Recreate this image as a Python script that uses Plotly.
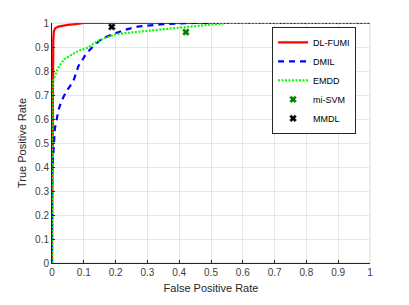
import plotly.graph_objects as go

# ---- data ----
dlfumi_fpr = [0.0, 0.002, 0.003, 0.004, 0.006, 0.01, 0.02, 0.03, 0.05, 0.08, 0.1, 0.3, 0.6, 1.0]
dlfumi_tpr = [0.0, 0.75, 0.85, 0.93, 0.965, 0.978, 0.985, 0.988, 0.992, 0.996, 1.0, 1.0, 1.0, 1.0]

dmil_fpr = [0.0, 0.0, 0.003, 0.004, 0.006, 0.009, 0.015, 0.02, 0.03, 0.046, 0.067, 0.083, 0.098,
            0.104, 0.12, 0.135, 0.161, 0.188, 0.23, 0.27, 0.313, 0.35, 0.4, 0.45, 0.6, 1.0]
dmil_tpr = [0.0, 0.40, 0.43, 0.46, 0.50, 0.56, 0.60, 0.636, 0.676, 0.717, 0.757, 0.82, 0.851,
            0.865, 0.89, 0.91, 0.938, 0.952, 0.972, 0.985, 0.992, 0.995, 0.998, 1.0, 1.0, 1.0]

emdd_fpr = [0.0, 0.001, 0.004, 0.01, 0.015, 0.025, 0.04, 0.057, 0.083, 0.114, 0.135, 0.167,
            0.198, 0.23, 0.27, 0.31, 0.37, 0.43, 0.5, 0.55, 0.7, 1.0]
emdd_tpr = [0.0, 0.73, 0.76, 0.785, 0.80, 0.825, 0.851, 0.864, 0.884, 0.898, 0.918, 0.938,
            0.952, 0.958, 0.963, 0.967, 0.977, 0.985, 0.993, 1.0, 1.0, 1.0]

misvm_fpr = [0.421]
misvm_tpr = [0.962]
mmdl_fpr = [0.188]
mmdl_tpr = [0.984]

tick_vals = [0, 0.1, 0.2, 0.3, 0.4, 0.5, 0.6, 0.7, 0.8, 0.9, 1]
tick_text = ["0", "0.1", "0.2", "0.3", "0.4", "0.5", "0.6", "0.7", "0.8", "0.9", "1"]

FONT = "Liberation Sans, Arial, Helvetica, sans-serif"
AX = "#262626"

fig = go.Figure()
fig.add_trace(go.Scatter(x=dlfumi_fpr, y=dlfumi_tpr, mode="lines", name="DL-FUMI",
                         line=dict(color="#ff0000", width=2.2)))
fig.add_trace(go.Scatter(x=dmil_fpr, y=dmil_tpr, mode="lines", name="DMIL",
                         line=dict(color="#0000ff", width=2.2, dash="6px,5px")))
fig.add_trace(go.Scatter(x=emdd_fpr, y=emdd_tpr, mode="lines", name="EMDD",
                         line=dict(color="#00ff00", width=2.2, dash="2px,1.5px")))
fig.add_trace(go.Scatter(x=misvm_fpr, y=misvm_tpr, mode="markers", name="mi-SVM",
                         marker=dict(symbol="x", size=6, color="#008000",
                                     line=dict(width=0.5, color="#008000")), cliponaxis=False))
fig.add_trace(go.Scatter(x=mmdl_fpr, y=mmdl_tpr, mode="markers", name="MMDL",
                         marker=dict(symbol="x", size=6, color="#000000",
                                     line=dict(width=0.5, color="#000000")), cliponaxis=False))

axis_common = dict(
    range=[0, 1], tickvals=tick_vals, ticktext=tick_text,
    showgrid=True, gridcolor="#e6e6e6", gridwidth=1,
    zeroline=False, showline=True, linecolor=AX, linewidth=1,
    ticks="inside", ticklen=3, tickcolor=AX, tickwidth=1,
    tickfont=dict(family=FONT, size=10, color="#404040"),
)

fig.update_layout(
    width=409, height=305,
    margin=dict(l=52, r=39, t=23, b=34),
    paper_bgcolor="white", plot_bgcolor="white",
    font=dict(family=FONT, size=10, color=AX),
    xaxis=dict(**axis_common,
               title=dict(text="False Positive Rate", standoff=7,
                          font=dict(family=FONT, size=11, color=AX))),
    yaxis=dict(**axis_common,
               title=dict(text="True Positive Rate", standoff=6,
                          font=dict(family=FONT, size=11, color=AX))),
    showlegend=True,
    legend=dict(x=0.692, y=0.984, xanchor="left", yanchor="top",
                bgcolor="white", bordercolor="#262626", borderwidth=1,
                font=dict(family=FONT, size=9, color="#000000"),
                tracegroupgap=0, itemwidth=30),
    shapes=[dict(type="rect", xref="paper", yref="paper", x0=0, y0=0, x1=1, y1=1,
                 line=dict(color="#d9d9d9", width=1), layer="below")],
)

fig.write_html("out.html", config={"displayModeBar": False},
               post_script="document.body.style.margin='0';")
